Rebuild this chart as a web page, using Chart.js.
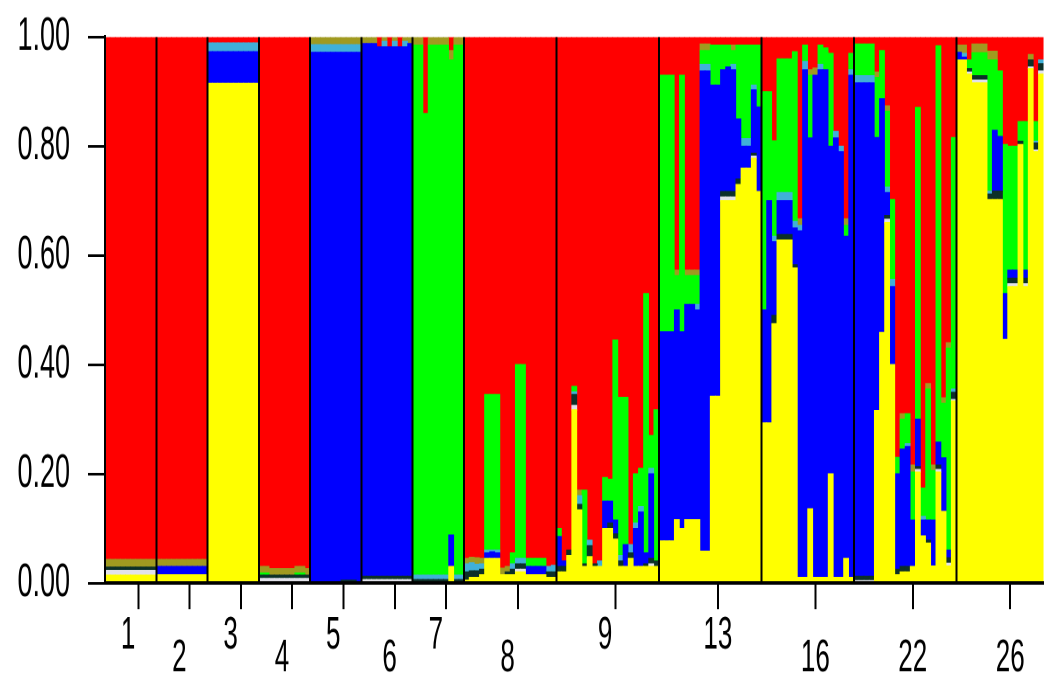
<!DOCTYPE html>
<html>
<head>
<meta charset="utf-8">
<script src="https://cdn.jsdelivr.net/npm/chart.js@4.4.0/dist/chart.umd.min.js"></script>
<style>
  body { margin: 0; background: #fff; }
  #wrap { width: 1044px; height: 680px; overflow: hidden; }
  /* the source picture is stretched vertically, so the chart is drawn flat and stretched;
     the canvas is a little wider than the page so the last bars run to the edge */
  #plot { transform-origin: 0 0; transform: scaleY(1.748); }
</style>
</head>
<body>
<div id="wrap"><canvas id="plot" width="1050" height="389"></canvas></div>
<script>
// populations and number of individuals in each
var popNames = ['1', '2', '3', '4', '5', '6', '7', '8', '9', '13', '16', '22', '26'];
var popSizes = [10, 10, 10, 10, 10, 10, 10, 18, 20, 20, 18, 20, 17];
var lowLabels = ['2', '4', '6', '8', '16', '22', '26'];
var yTicks = [0, 0.2, 0.4, 0.6, 0.8, 1.0];

// membership per cluster, one line per population (red = what is left)
var yellow = [
  .014,.014,.014,.014,.014,.014,.014,.014,.014,.014,
  .015,.015,.015,.015,.015,.015,.015,.015,.015,.015,
  .915,.915,.915,.915,.915,.915,.915,.915,.915,.915,
  0,0,0,0,0,0,0,0,0,0,
  0,0,0,0,0,0,0,0,0,0,
  0,0,0,0,0,0,0,0,0,0,
  0,0,0,0,0,0,0,.03,0,0,
  .005,.01,.01,.015,.045,.045,.045,.015,.015,.015,.02,.02,.015,.015,.015,.015,.01,.01,
  .02,.02,.05,.317,.134,.03,.048,.03,.03,.10,.10,.08,.03,.03,.045,.03,.03,.03,.03,.03,
  .077,.077,.077,.116,.10,.116,.116,.116,.058,.058,.342,.342,.70,.70,.70,.73,.76,.76,.778,.717,
  .293,.293,.475,.628,.628,.628,.577,.01,.01,.136,.01,.01,.01,.20,.01,.01,.045,.01,
  0,0,0,0,.316,.459,.66,.40,.015,.02,.02,.03,.203,.086,.073,.031,.203,.131,.031,.333,
  .958,.958,.932,.916,.916,.916,.702,.702,.702,.446,.543,.543,.803,.543,.942,.79,.932
];
var pale = [
  .009,.009,.009,.009,.009,.009,.009,.009,.009,.009,
  0,0,0,0,0,0,0,0,0,0,
  0,0,0,0,0,0,0,0,0,0,
  .008,.008,.008,.008,.008,.008,.008,.008,.008,.008,
  0,0,0,0,0,0,0,0,0,0,
  .006,.006,.006,.006,.006,.006,.006,.006,.006,.006,
  0,0,0,0,0,0,0,0,0,0,
  0,0,0,0,0,0,0,0,0,0,.005,.005,0,0,0,0,0,0,
  0,0,0,.008,0,0,0,0,0,0,0,0,0,0,0,0,0,0,.005,0,
  0,0,0,0,0,0,0,0,0,0,0,0,.007,.007,.007,0,0,0,.004,0,
  0,0,0,0,0,0,0,0,0,0,0,0,0,0,0,0,0,0,
  .004,.004,.004,.004,0,0,.006,0,0,0,0,0,.005,0,0,0,.005,0,.005,.003,
  0,0,.004,.005,.005,.005,0,0,0,0,.005,.005,0,.005,.003,.003,.006
];
var dark = [
  .006,.006,.006,.006,.006,.006,.006,.006,.006,.006,
  0,0,0,0,0,0,0,0,0,0,
  0,0,0,0,0,0,0,0,0,0,
  .006,.006,.006,.006,.006,.006,.006,.006,.006,.006,
  0,0,0,0,0,0,.005,.005,.005,0,
  .006,.006,.006,.006,.006,.006,.006,.006,.006,.006,
  .006,.006,.006,.006,.006,.006,.006,0,.006,.006,
  .015,.012,.012,.01,0,0,0,0,.005,.01,.01,.01,0,0,0,0,.01,.01,
  .01,.01,.01,.02,.01,.005,.02,.005,0,0,.01,.01,.01,0,.01,0,0,.005,.01,.01,
  0,0,0,0,0,0,0,0,0,0,0,0,.01,.01,.01,.01,0,0,.005,0,
  0,0,.015,.01,.01,.01,.006,0,0,0,0,0,0,0,0,0,0,0,
  .008,.008,.008,.008,0,0,.007,0,.01,.01,.01,0,.005,0,.005,0,.008,0,.01,.013,
  0,0,.006,.008,.008,.008,.01,.016,.016,0,.01,.01,.006,.01,.013,.013,.013
];
var blue = [
  0,0,0,0,0,0,0,0,0,0,
  .015,.015,.015,.015,.015,.015,.015,.015,.015,.015,
  .058,.058,.058,.058,.058,.058,.058,.058,.058,.058,
  0,0,0,0,0,0,0,0,0,0,
  .972,.972,.972,.972,.972,.972,.967,.967,.967,.972,
  .976,.976,.976,.97,.97,.97,.97,.97,.97,.976,
  0,0,0,0,0,0,0,.058,0,0,
  0,0,0,0,.01,.012,.01,0,0,0,0,0,.015,.015,.015,.015,0,0,
  .055,.01,0,0,0,0,0,0,0,.05,.04,.025,0,.04,0,.07,.10,.02,.155,0,
  .383,.383,.383,.384,.36,.394,.394,.384,.88,.88,.57,.57,.223,.228,.223,.11,.04,.04,.116,.155,
  .207,.407,.135,.062,.062,.062,.067,.635,.93,.679,.92,.93,.93,.60,.805,.78,.59,.92,
  .904,.904,.904,.904,.50,.428,.042,.143,.175,.215,.22,.085,.087,.029,.037,.084,.042,.098,.014,0,
  .014,.005,0,0,0,0,0,.111,.10,.084,.015,.015,0,.015,0,0,0
];
var cyan = [
  0,0,0,0,0,0,0,0,0,0,
  0,0,0,0,0,0,0,0,0,0,
  .016,.016,.016,.016,.016,.016,.016,.016,.016,.016,
  0,0,0,0,0,0,0,0,0,0,
  .014,.014,.014,.014,.014,.014,.014,.014,.014,.014,
  0,0,0,0,.01,0,.01,0,.01,0,
  .008,.008,.008,.008,.008,.008,.008,0,.008,.008,
  .015,.015,.012,.01,.005,.003,.005,0,0,.01,.01,.01,0,0,0,0,.01,.012,
  0,0,0,.005,.016,0,.01,0,.01,0,0,0,.01,0,.015,.01,.01,0,.01,0,
  0,0,0,0,0,0,0,.01,.012,.012,0,0,0,0,.01,0,.014,.014,.009,0,
  0,0,.01,.015,.015,.015,.012,.01,.015,0,0,.01,0,0,.012,.01,0,.01,
  .013,.013,.013,.013,0,0,.01,.013,0,0,.005,0,0,.007,0,0,0,0,0,.006,
  0,.007,0,0,0,0,.006,0,0,0,0,0,0,0,0,.003,.007
];
var green = [
  0,0,0,0,0,0,0,0,0,0,
  0,0,0,0,0,0,0,0,0,0,
  0,0,0,0,0,0,0,0,0,0,
  .004,.004,0,0,0,0,0,.004,.004,0,
  0,0,0,0,0,0,0,0,0,0,
  0,0,0,0,0,0,0,0,0,0,
  .971,.971,.846,.971,.971,.971,.971,.87,.971,.971,
  0,0,0,0,.285,.285,.285,0,0,.02,.355,.355,.015,.015,.015,.015,0,0,
  .015,0,0,.01,0,.135,0,0,0,.043,.04,.33,.29,.27,0,.09,.07,.475,.06,.277,
  .47,.47,.47,.063,.47,.053,.053,.053,.025,.025,.073,.073,.045,.04,.025,.135,.171,.171,.073,.113,
  .40,.20,.175,.245,.245,.245,.311,0,.03,.115,0,.035,.04,.17,0,0,.02,.03,
  .058,.058,.058,.058,.11,.088,.139,.146,.03,.055,.055,.088,.571,.052,.24,.091,.726,.10,.37,.461,
  0,0,.016,.042,.042,.042,.24,.129,.12,.273,.227,.227,.036,.272,0,.036,0
];
var olive = [
  .014,.014,.014,.014,.014,.014,.014,.014,.014,.014,
  .013,.013,.013,.013,.013,.013,.013,.013,.013,.013,
  0,0,0,0,0,0,0,0,0,0,
  .012,.012,.012,.012,.012,.012,.012,.012,.012,.012,
  .014,.014,.014,.014,.014,.014,.014,.014,.014,.014,
  .012,.012,.012,0,.008,0,.008,0,.008,.012,
  .015,.015,0,.015,.015,.015,.015,.017,.015,.015,
  .01,.01,.012,.01,0,0,0,.012,.01,0,0,0,0,0,0,0,0,0,
  0,0,0,0,.01,0,0,0,0,0,0,0,0,0,0,0,0,0,0,0,
  0,0,0,.01,0,.01,.01,.01,.012,.012,0,0,0,0,.01,0,0,0,0,0,
  0,0,0,0,0,0,0,.012,0,.01,.013,0,0,0,0,0,.012,0,
  0,0,0,0,.01,0,.01,0,0,.01,0,.013,0,0,.01,.01,0,.01,.01,0,
  .013,.015,0,.016,.016,.016,.016,.016,0,0,0,0,0,0,.01,0,0
];

// individuals and population boundaries
var individuals = [];
var popStart = [];
popNames.forEach(function (name, p) {
  popStart.push(individuals.length);
  for (var k = 0; k < popSizes[p]; k++) individuals.push(name + '-' + (k + 1));
});

var red = individuals.map(function (_, i) {
  var rest = 1 - yellow[i] - pale[i] - dark[i] - blue[i] - cyan[i] - green[i] - olive[i];
  return Math.max(0, Math.round(rest * 1000) / 1000);
});

// zero parts become null so no hairline slivers are drawn
function clean(arr) { return arr.map(function (v) { return v > 0 ? v : null; }); }

// where the population label and the tick mark sit (index of an individual)
var labelAt = [4, 14, 24, 34, 44, 55, 64, 78, 97, 119, 138, 157, 176];
var tickAt = [6, 16, 26, 36, 46, 56, 66, 80, 99, 119, 138, 157, 176];
var fontFamily = "'Liberation Sans', Arial, sans-serif";

var series = [
  ['yellow', yellow, '#ffff00'],
  ['pale', pale, '#e2e2ea'],
  ['dark', dark, '#0c3028'],
  ['blue', blue, '#0000ff'],
  ['cyan', cyan, '#40b0d8'],
  ['green', green, '#00ff00'],
  ['olive', olive, '#a09a20'],
  ['red', red, '#ff0000']
];

var ctx = document.getElementById('plot').getContext('2d');
var structurePlot = new Chart(ctx, {
  type: 'bar',
  data: {
    labels: individuals,
    datasets: series.map(function (s) {
      return {
        label: s[0],
        data: clean(s[1]),
        backgroundColor: s[2],
        borderWidth: 0,
        barPercentage: 1,
        categoryPercentage: 1,
        xAxisID: 'x',
        yAxisID: 'y',
        stack: 'q'
      };
    })
  },
  options: {
    responsive: false,
    animation: false,
    devicePixelRatio: 2,
    layout: { padding: { top: 21.2, left: 0, right: 0, bottom: 0 } },
    plugins: { legend: { display: false }, tooltip: { enabled: false } },
    scales: {
      x: {
        type: 'category',
        stacked: true,
        offset: true,
        ticks: { display: false },
        border: { display: false },
        grid: {
          z: 1,
          offset: true,
          drawTicks: false,
          lineWidth: 2,
          color: function (c) {
            return (c.index > 0 && popStart.indexOf(c.index) >= 0) ? '#000' : 'rgba(0,0,0,0)';
          }
        }
      },
      xg: {
        type: 'category',
        labels: individuals,
        position: 'bottom',
        offset: true,
        border: { display: true, color: '#000', width: 2, z: 2 },
        grid: {
          z: 2,
          offset: false,
          drawOnChartArea: false,
          drawTicks: true,
          tickLength: 15,
          lineWidth: 2,
          color: function (c) { return tickAt.indexOf(c.index) >= 0 ? '#000' : 'rgba(0,0,0,0)'; }
        },
        ticks: {
          autoSkip: false,
          maxRotation: 0,
          minRotation: 0,
          padding: 9,
          color: '#000',
          font: { family: fontFamily, size: 26, lineHeight: '13px' },
          callback: function (value, index) {
            var p = labelAt.indexOf(index);
            if (p < 0) return '';
            var name = popNames[p];
            return lowLabels.indexOf(name) >= 0 ? ['', name] : [name];
          }
        },
        afterFit: function (scale) { scale.height = 55.5; }
      },
      y: {
        stacked: true,
        min: 0,
        max: 1,
        border: { color: '#000', width: 2, z: 2 },
        grid: { z: 2, drawOnChartArea: false, tickLength: 17, color: '#000', lineWidth: 1.5 },
        afterBuildTicks: function (scale) {
          scale.ticks = yTicks.map(function (v) { return { value: v }; });
        },
        ticks: {
          padding: 18,
          color: '#000',
          font: { family: fontFamily, size: 27, lineHeight: '1px' },
          callback: function (v) { return Number(v).toFixed(2); }
        },
        afterFit: function (scale) { scale.width = 105; }
      }
    }
  }
});
</script>
</body>
</html>
